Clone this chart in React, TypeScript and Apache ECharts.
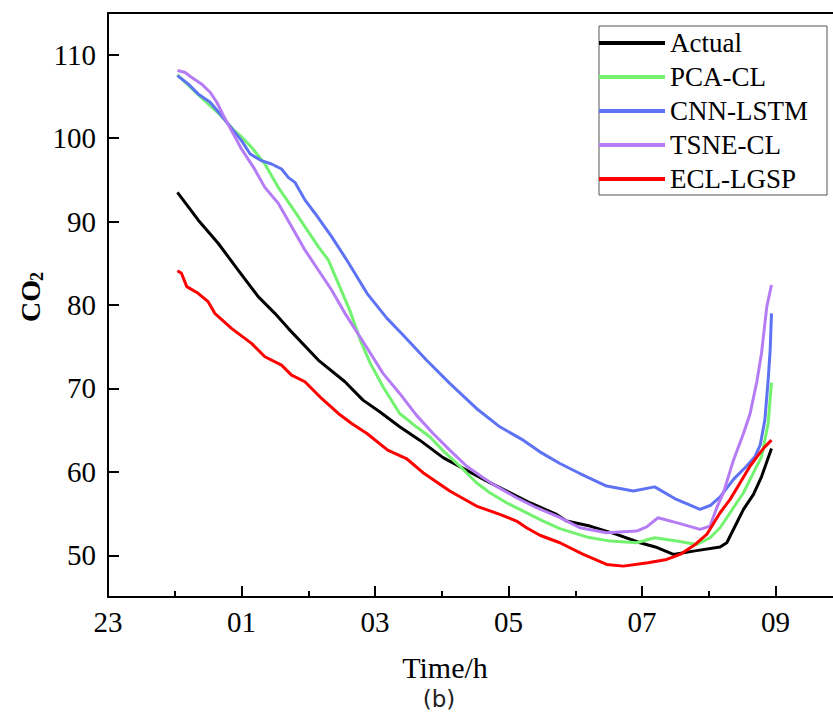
import React, { useEffect, useRef } from "react";
import * as echarts from "echarts";

// x = hours elapsed since 23:00
const majorTickHours = [0, 2, 4, 6, 8, 10];
const minorTickHours = [1, 3, 5, 7, 9];
const yTickValues = [50, 60, 70, 80, 90, 100, 110];
const seriesNames = ["Actual", "PCA-CL", "CNN-LSTM", "TSNE-CL", "ECL-LGSP"];

const actual: number[][] = [
  [1.04, 93.5], [1.35, 90.2], [1.65, 87.4], [1.93, 84.4], [2.25, 81.0], [2.5, 79.0],
  [2.7, 77.2], [3.15, 73.4], [3.55, 70.8], [3.82, 68.6], [4.07, 67.2], [4.37, 65.4],
  [4.67, 63.8], [5.02, 61.7], [5.37, 60.2], [5.72, 58.7], [6.02, 57.5], [6.32, 56.3],
  [6.72, 54.9], [6.87, 54.1], [7.22, 53.5], [7.62, 52.5], [7.97, 51.5], [8.2, 51.0],
  [8.47, 50.1], [8.77, 50.5], [9.17, 51.0], [9.27, 51.5], [9.42, 53.9], [9.52, 55.5],
  [9.67, 57.3], [9.79, 59.4], [9.94, 62.8],
];

const pcaCl: number[][] = [
  [1.04, 107.6], [1.35, 105.2], [1.68, 102.8], [1.88, 101.0], [1.98, 100.3], [2.15, 98.9],
  [2.35, 96.9], [2.55, 94.1], [2.75, 91.8], [2.95, 89.4], [3.15, 87.0], [3.3, 85.4],
  [3.45, 82.6], [3.63, 79.2], [3.78, 75.8], [3.93, 73.0], [4.12, 70.2], [4.37, 67.0],
  [4.62, 65.4], [4.82, 64.2], [5.05, 62.3], [5.27, 60.7], [5.52, 58.7], [5.72, 57.5],
  [5.97, 56.3], [6.22, 55.3], [6.52, 54.1], [6.77, 53.2], [7.17, 52.2], [7.52, 51.7],
  [7.92, 51.5], [8.19, 52.1], [8.52, 51.7], [8.82, 51.3], [9.02, 52.1], [9.17, 53.3],
  [9.32, 55.1], [9.52, 57.5], [9.67, 59.9], [9.79, 61.8], [9.89, 65.8], [9.94, 70.7],
];

const cnnLstm: number[][] = [
  [1.04, 107.5], [1.2, 106.5], [1.35, 105.3], [1.53, 104.3], [1.68, 102.9], [1.88, 100.9],
  [2.0, 99.7], [2.13, 98.1], [2.3, 97.3], [2.45, 96.9], [2.6, 96.3], [2.7, 95.3],
  [2.8, 94.7], [2.95, 92.6], [3.1, 91.0], [3.35, 88.2], [3.6, 85.1], [3.88, 81.4],
  [4.18, 78.4], [4.42, 76.4], [4.77, 73.4], [5.12, 70.6], [5.52, 67.6], [5.87, 65.4],
  [6.22, 63.8], [6.47, 62.4], [6.77, 61.0], [7.07, 59.8], [7.47, 58.3], [7.87, 57.7],
  [8.19, 58.2], [8.49, 56.8], [8.87, 55.5], [9.03, 56.0], [9.17, 57.0], [9.37, 59.1],
  [9.57, 60.7], [9.69, 61.8], [9.77, 63.2], [9.84, 66.2], [9.89, 71.0], [9.92, 74.6],
  [9.94, 79.0],
];

const tsneCl: number[][] = [
  [1.04, 108.1], [1.15, 107.9], [1.25, 107.3], [1.4, 106.5], [1.53, 105.5], [1.63, 104.3],
  [1.73, 102.7], [1.85, 100.9], [2.0, 98.7], [2.18, 96.5], [2.35, 94.1], [2.55, 92.2],
  [2.75, 89.4], [2.95, 86.6], [3.15, 84.2], [3.35, 81.8], [3.55, 79.0], [3.87, 75.0],
  [4.12, 71.8], [4.37, 69.4], [4.62, 66.8], [4.87, 64.6], [5.12, 62.6], [5.37, 60.7],
  [5.62, 59.3], [5.77, 58.5], [6.12, 56.9], [6.42, 55.7], [6.75, 54.6], [7.07, 53.3],
  [7.47, 52.7], [7.92, 52.9], [8.07, 53.4], [8.24, 54.5], [8.57, 53.8], [8.87, 53.1],
  [9.02, 53.5], [9.12, 55.7], [9.22, 57.5], [9.37, 61.4], [9.52, 64.6], [9.62, 67.0],
  [9.72, 70.8], [9.79, 74.2], [9.87, 79.8], [9.94, 82.4],
];

const eclLgsp: number[][] = [
  [1.04, 84.1], [1.1, 83.8], [1.18, 82.2], [1.35, 81.4], [1.5, 80.4], [1.6, 79.0],
  [1.85, 77.2], [2.15, 75.4], [2.35, 73.8], [2.6, 72.8], [2.75, 71.6], [2.95, 70.8],
  [3.2, 68.8], [3.45, 67.0], [3.65, 65.8], [3.88, 64.6], [4.19, 62.6], [4.47, 61.6],
  [4.72, 59.9], [5.12, 57.7], [5.52, 55.9], [5.87, 54.9], [6.12, 54.1], [6.27, 53.3],
  [6.47, 52.4], [6.77, 51.5], [7.12, 50.1], [7.47, 48.9], [7.72, 48.7], [8.09, 49.1],
  [8.37, 49.5], [8.57, 50.1], [8.78, 51.2], [8.97, 52.5], [9.17, 55.1], [9.32, 56.7],
  [9.47, 58.7], [9.62, 60.7], [9.77, 62.3], [9.84, 63.0], [9.94, 63.8],
];

const seriesData = [actual, pcaCl, cnnLstm, tsneCl, eclLgsp];
const seriesColors = ["#000000", "#72F26E", "#5E72F4", "#B57CF5", "#FF0000"];

const SERIF = "Liberation Serif";

const hourLabel = (v: number) => String((23 + Math.round(v)) % 24).padStart(2, "0");

export default function App() {
  const ref = useRef<HTMLDivElement>(null);
  useEffect(() => {
    if (!ref.current) return;
    const chart = echarts.init(ref.current, undefined, { renderer: "svg" });
    const xMax = (833 - 108) / 66.75;
    chart.setOption({
      animation: false,
      backgroundColor: "#ffffff",
      textStyle: { fontFamily: SERIF },
      grid: { left: 108, top: 13, right: 0, bottom: 116, containLabel: false },
      legend: {
        data: seriesNames,
        orient: "vertical",
        left: 599,
        top: 26,
        icon: "rect",
        itemWidth: 66,
        itemHeight: 4,
        itemGap: 4,
        padding: [2, 19, 1, 0],
        borderColor: "#555555",
        borderWidth: 1,
        textStyle: { fontFamily: SERIF, fontSize: 27, color: "#000", lineHeight: 30 },
      },
      xAxis: [
        {
          type: "value",
          min: 0,
          max: xMax,
          position: "bottom",
          splitLine: { show: false },
          axisLine: { show: true, lineStyle: { color: "#000", width: 2 } },
          axisTick: {
            show: true,
            inside: true,
            length: 11,
            customValues: majorTickHours,
            lineStyle: { color: "#000", width: 2 },
          },
          axisLabel: {
            customValues: majorTickHours,
            formatter: (v: number) => hourLabel(v),
            fontFamily: SERIF,
            fontSize: 29,
            color: "#000",
            margin: 10,
          },
        },
        {
          type: "value",
          min: 0,
          max: xMax,
          position: "bottom",
          offset: 0,
          splitLine: { show: false },
          axisLine: { show: false },
          axisTick: {
            show: true,
            inside: true,
            length: 6,
            customValues: minorTickHours,
            lineStyle: { color: "#000", width: 2 },
          },
          axisLabel: { show: false },
        },
        {
          type: "value",
          min: 0,
          max: xMax,
          position: "top",
          splitLine: { show: false },
          axisLine: { show: true, lineStyle: { color: "#000", width: 2 } },
          axisTick: { show: false },
          axisLabel: { show: false },
        },
      ],
      yAxis: {
        type: "value",
        min: 45,
        max: 115,
        splitLine: { show: false },
        axisLine: { show: true, lineStyle: { color: "#000", width: 2 } },
        axisTick: {
          show: true,
          inside: true,
          length: 11,
          customValues: yTickValues,
          lineStyle: { color: "#000", width: 2 },
        },
        axisLabel: {
          customValues: yTickValues,
          fontFamily: SERIF,
          fontSize: 29,
          color: "#000",
          margin: 12,
        },
      },
      series: seriesNames.map((name, i) => ({
        name,
        type: "line",
        xAxisIndex: 0,
        data: seriesData[i],
        showSymbol: false,
        symbol: "none",
        color: seriesColors[i],
        lineStyle: { color: seriesColors[i], width: 3 },
        z: 2 + i,
      })),
      graphic: [
        {
          type: "group",
          x: 30,
          y: 322,
          rotation: Math.PI / 2,
          children: [
            {
              type: "text",
              x: 0,
              y: 0,
              style: {
                text: "CO",
                fontFamily: SERIF,
                fontSize: 28,
                fontWeight: "bold",
                fill: "#000",
                textAlign: "left",
                textVerticalAlign: "middle",
              },
            },
            {
              type: "text",
              x: 41,
              y: 7,
              style: {
                text: "2",
                fontFamily: SERIF,
                fontSize: 18,
                fontWeight: "bold",
                fill: "#000",
                textAlign: "left",
                textVerticalAlign: "middle",
              },
            },
          ],
        },
        {
          type: "text",
          x: 445,
          y: 667,
          style: {
            text: "Time/h",
            fontFamily: SERIF,
            fontSize: 30,
            fill: "#000",
            textAlign: "center",
            textVerticalAlign: "middle",
          },
        },
        {
          type: "text",
          x: 439,
          y: 699,
          style: {
            text: "(b)",
            fontFamily: "DejaVu Sans",
            fontSize: 23,
            fill: "#222",
            textAlign: "center",
            textVerticalAlign: "middle",
          },
        },
      ],
    });
    return () => chart.dispose();
  }, []);
  return (
    <div
      ref={ref}
      style={{ position: "fixed", left: 0, top: 0, width: 833, height: 713, background: "#fff" }}
    />
  );
}
